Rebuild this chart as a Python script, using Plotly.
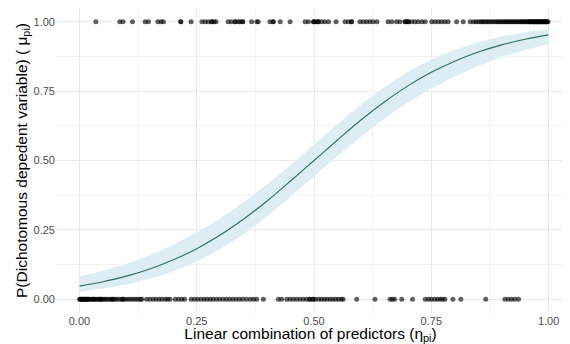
import plotly.graph_objects as go

# Fitted curve and confidence band
curve_x = [0.00, 0.05, 0.10, 0.15, 0.20, 0.25, 0.30, 0.35, 0.40, 0.45, 0.50,
           0.55, 0.60, 0.65, 0.70, 0.75, 0.80, 0.85, 0.90, 0.95, 1.00]
curve_y = [0.047, 0.063, 0.083, 0.109, 0.142, 0.182, 0.231, 0.289, 0.354, 0.426, 0.500,
           0.574, 0.646, 0.711, 0.769, 0.818, 0.858, 0.891, 0.917, 0.937, 0.953]
band_lo = [0.027, 0.038, 0.053, 0.074, 0.101, 0.136, 0.181, 0.235, 0.299, 0.369, 0.443,
           0.516, 0.586, 0.651, 0.709, 0.760, 0.804, 0.841, 0.873, 0.898, 0.919]
band_hi = [0.081, 0.102, 0.128, 0.159, 0.196, 0.240, 0.291, 0.349, 0.414, 0.484, 0.557,
           0.631, 0.701, 0.765, 0.819, 0.864, 0.899, 0.926, 0.947, 0.962, 0.973]

# Observed outcomes: x positions of points at y = 1 and y = 0
x_ones = [0.035, 0.086, 0.093, 0.113, 0.140, 0.147, 0.167, 0.174, 0.179, 0.216, 0.216,
          0.238, 0.261, 0.268, 0.275, 0.282, 0.282, 0.287, 0.291, 0.317, 0.324, 0.332,
          0.332, 0.339, 0.342, 0.348, 0.348, 0.367, 0.378, 0.381, 0.406, 0.413, 0.413,
          0.428, 0.449, 0.481, 0.488, 0.499, 0.499, 0.506, 0.502, 0.509, 0.509, 0.516,
          0.523, 0.531, 0.547, 0.566, 0.573, 0.580, 0.580, 0.598, 0.605, 0.612, 0.619,
          0.626, 0.634, 0.658, 0.666, 0.676, 0.683, 0.694, 0.694, 0.698, 0.701, 0.701,
          0.708, 0.715, 0.722, 0.730, 0.737, 0.751, 0.758, 0.765, 0.772, 0.779, 0.786,
          0.804, 0.818, 0.833, 0.840, 0.845, 0.850, 0.855, 0.858, 0.862, 0.866, 0.870,
          0.874, 0.878, 0.882, 0.886, 0.890, 0.893, 0.897, 0.900, 0.904, 0.907, 0.910,
          0.913, 0.916, 0.919, 0.922, 0.925, 0.928, 0.931, 0.934, 0.937, 0.940, 0.943,
          0.945, 0.948, 0.950, 0.953, 0.955, 0.958, 0.960, 0.962, 0.965, 0.967, 0.969,
          0.971, 0.973, 0.975, 0.977, 0.979, 0.981, 0.983, 0.985, 0.987, 0.989, 0.991,
          0.993, 0.995, 0.997, 0.999, 0.960, 0.970, 0.980, 0.990, 0.975, 0.985, 0.995]
x_zeros = [0.000, 0.002, 0.004, 0.006, 0.008, 0.010, 0.012, 0.014, 0.016, 0.018, 0.020,
           0.022, 0.025, 0.028, 0.031, 0.034, 0.037, 0.040, 0.043, 0.046, 0.050, 0.053,
           0.056, 0.060, 0.064, 0.068, 0.072, 0.076, 0.080, 0.085, 0.090, 0.095, 0.100,
           0.105, 0.110, 0.115, 0.120, 0.125, 0.130, 0.133, 0.005, 0.015, 0.030, 0.045,
           0.070, 0.092, 0.143, 0.150, 0.157, 0.163, 0.170, 0.176, 0.183, 0.188, 0.193,
           0.204, 0.211, 0.218, 0.224, 0.238, 0.245, 0.252, 0.259, 0.266, 0.272, 0.279,
           0.285, 0.292, 0.299, 0.306, 0.313, 0.320, 0.327, 0.334, 0.341, 0.348, 0.356,
           0.364, 0.371, 0.378, 0.392, 0.424, 0.431, 0.442, 0.449, 0.456, 0.463, 0.470,
           0.477, 0.484, 0.491, 0.499, 0.491, 0.497, 0.503, 0.510, 0.516, 0.522, 0.528,
           0.534, 0.540, 0.546, 0.552, 0.558, 0.562, 0.591, 0.630, 0.662, 0.667, 0.672,
           0.687, 0.710, 0.737, 0.744, 0.750, 0.757, 0.763, 0.769, 0.774, 0.779, 0.796,
           0.813, 0.866, 0.907, 0.914, 0.921, 0.928, 0.936]

tick_vals = [0.00, 0.25, 0.50, 0.75, 1.00]
tick_text = ["0.00", "0.25", "0.50", "0.75", "1.00"]

fig = go.Figure()

fig.add_trace(go.Scatter(x=curve_x, y=band_hi, mode="lines", line=dict(width=0, shape="spline"),
                         showlegend=False, hoverinfo="skip"))
fig.add_trace(go.Scatter(x=curve_x, y=band_lo, mode="lines", line=dict(width=0, shape="spline"),
                         fill="tonexty", fillcolor="#DCEDF4", showlegend=False, hoverinfo="skip"))
fig.add_trace(go.Scatter(x=curve_x, y=curve_y, mode="lines",
                         line=dict(color="#2E6E58", width=1.1, shape="spline"), showlegend=False))
fig.add_trace(go.Scatter(x=x_ones, y=[1] * len(x_ones), mode="markers",
                         marker=dict(color="rgba(0,0,0,0.62)", size=5, line=dict(width=0)),
                         showlegend=False, cliponaxis=False))
fig.add_trace(go.Scatter(x=x_zeros, y=[0] * len(x_zeros), mode="markers",
                         marker=dict(color="rgba(0,0,0,0.62)", size=5, line=dict(width=0)),
                         showlegend=False, cliponaxis=False))

axis_common = dict(
    showline=False, zeroline=False, ticks="", automargin=False,
    gridcolor="#EBEBEB", gridwidth=1,
    tickfont=dict(family="Liberation Sans, Arial, sans-serif", size=11, color="#4D4D4D"),
    tickvals=tick_vals, ticktext=tick_text,
    minor=dict(dtick=0.125, tick0=0.125, showgrid=True, gridcolor="#F2F2F2", gridwidth=0.6),
)

# The page body adds an 8px offset, so the figure is sized to fit the window.
fig.update_layout(
    width=562, height=336,
    margin=dict(l=48, r=5, t=0, b=31, autoexpand=False),
    plot_bgcolor="white", paper_bgcolor="white",
    font=dict(family="Liberation Sans, Arial, sans-serif", color="black"),
    xaxis=dict(range=[-0.05, 1.035],
               title=dict(text="Linear combination of predictors (η<sub>pi</sub>)",
                          font=dict(size=15.5), standoff=3),
               **axis_common),
    yaxis=dict(range=[-0.05, 1.05],
               title=dict(text="P(Dichotomous depedent variable) ( μ<sub>pi</sub>)",
                          font=dict(size=15.5), standoff=2),
               **axis_common),
)

fig.write_html("out.html")
